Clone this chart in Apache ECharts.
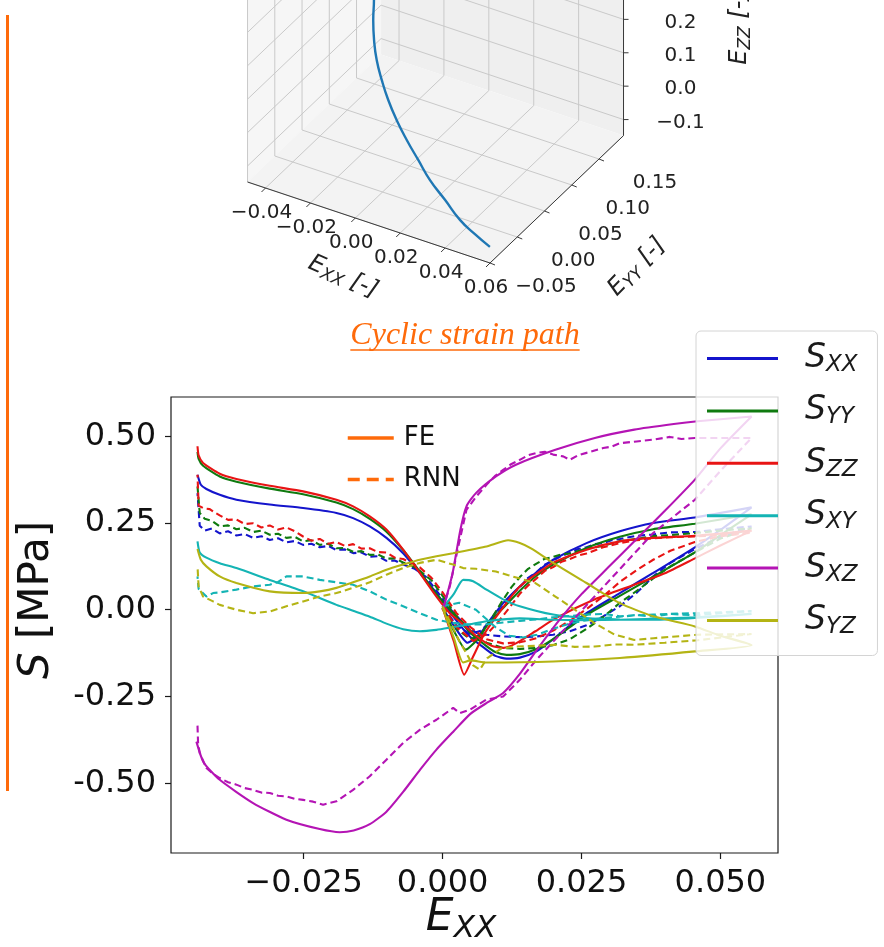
<!DOCTYPE html>
<html>
<head>
<meta charset="utf-8">
<script src="https://cdn.jsdelivr.net/npm/echarts@6.0.0/dist/echarts.min.js"></script>
<style>
  html, body { margin: 0; padding: 0; background: #ffffff; }
  #chart { width: 884px; height: 947px; }
</style>
</head>
<body>
<div id="chart"></div>
<script>
// ---------------- stress response: S vs E_XX ----------------
const components = ['S_XX', 'S_YY', 'S_ZZ', 'S_XY', 'S_XZ', 'S_YZ'];
const componentColors = ['#1414cc', '#0f7a0f', '#e81414', '#14b4b4', '#b414b4', '#b4b414'];
const xTickValues = [-0.025, 0, 0.025, 0.05];
const yTickValues = [-0.5, -0.25, 0, 0.25, 0.5];

// FE reference curves, [E_XX, S]
const feSxx = [[0,0.005],[0.002,-0.045],[0.0045,-0.095],[0.0067,-0.07],[0.009,-0.02],[0.0109,0.019],[0.0139,0.067],[0.0169,0.108],[0.0199,0.144],[0.0259,0.192],[0.0319,0.226],[0.0379,0.25],[0.0454,0.266],[0.0556,0.295],[0.05,0.23],[0.0454,0.18],[0.0379,0.106],[0.0319,0.048],[0.0259,-0.01],[0.0229,-0.045],[0.0199,-0.085],[0.0169,-0.12],[0.0139,-0.138],[0.0115,-0.141],[0.0095,-0.133],[0.0079,-0.115],[0.0049,-0.077],[0.0019,-0.019],[-0.0011,0.048],[-0.0041,0.106],[-0.0071,0.163],[-0.0101,0.207],[-0.0131,0.24],[-0.0161,0.264],[-0.0191,0.279],[-0.0251,0.293],[-0.0311,0.303],[-0.0371,0.317],[-0.0401,0.331],[-0.0425,0.348],[-0.0435,0.36],[-0.0441,0.389]];
const feSyy = [[0,0.005],[0.002,-0.06],[0.0042,-0.115],[0.006,-0.09],[0.0085,-0.035],[0.0109,0.005],[0.0139,0.055],[0.0169,0.098],[0.0199,0.13],[0.0259,0.178],[0.0319,0.21],[0.0379,0.232],[0.0454,0.248],[0.0556,0.275],[0.05,0.215],[0.0454,0.165],[0.0379,0.095],[0.0319,0.04],[0.0259,-0.015],[0.0229,-0.05],[0.0199,-0.085],[0.0169,-0.113],[0.0139,-0.128],[0.0115,-0.13],[0.0095,-0.122],[0.0079,-0.105],[0.0049,-0.065],[0.0019,-0.01],[-0.0011,0.045],[-0.0041,0.11],[-0.0071,0.172],[-0.0101,0.225],[-0.0131,0.262],[-0.0161,0.29],[-0.0191,0.309],[-0.0251,0.333],[-0.0311,0.349],[-0.0371,0.369],[-0.0401,0.384],[-0.0431,0.415],[-0.0439,0.435],[-0.0441,0.455]];
const feSzz = [[0,0.005],[0.002,-0.09],[0.0039,-0.187],[0.0055,-0.135],[0.0075,-0.07],[0.0097,-0.019],[0.0139,0.067],[0.0199,0.135],[0.0259,0.173],[0.0319,0.197],[0.0379,0.207],[0.0454,0.213],[0.0556,0.228],[0.05,0.185],[0.0454,0.148],[0.04,0.105],[0.0345,0.072],[0.0274,0.03],[0.0203,-0.025],[0.0167,-0.062],[0.0132,-0.097],[0.011,-0.11],[0.0088,-0.104],[0.006,-0.075],[0.0032,-0.035],[0.0013,-0.01],[-0.0011,0.038],[-0.0041,0.106],[-0.0071,0.173],[-0.0101,0.231],[-0.0131,0.269],[-0.0161,0.298],[-0.0191,0.317],[-0.0251,0.341],[-0.0311,0.357],[-0.0371,0.377],[-0.0401,0.392],[-0.0431,0.423],[-0.0439,0.445],[-0.0441,0.471]];
const feSxy = [[0,0.005],[0.002,0.045],[0.0037,0.086],[0.0055,0.082],[0.0079,0.058],[0.0109,0.03],[0.0139,0.01],[0.0199,-0.014],[0.0259,-0.024],[0.0319,-0.028],[0.0379,-0.029],[0.0454,-0.024],[0.0556,-0.012],[0.0454,-0.022],[0.0379,-0.026],[0.0319,-0.029],[0.0259,-0.03],[0.0199,-0.029],[0.0139,-0.025],[0.0079,-0.033],[0.0049,-0.042],[0.0019,-0.05],[-0.0011,-0.058],[-0.0041,-0.062],[-0.0071,-0.056],[-0.0101,-0.04],[-0.0131,-0.02],[-0.0161,-0.003],[-0.0191,0.014],[-0.0251,0.053],[-0.0311,0.086],[-0.0371,0.12],[-0.0401,0.134],[-0.0425,0.15],[-0.0437,0.165],[-0.0441,0.197]];
const feSxz = [[0,0],[0.0004,0.019],[0.0018,0.105],[0.0032,0.23],[0.0043,0.298],[0.006,0.336],[0.0096,0.384],[0.0132,0.418],[0.0203,0.461],[0.0274,0.495],[0.0345,0.519],[0.0416,0.535],[0.0459,0.543],[0.0556,0.557],[0.05,0.465],[0.0454,0.375],[0.04,0.285],[0.035,0.205],[0.03,0.125],[0.025,0.045],[0.021,-0.03],[0.017,-0.115],[0.0139,-0.185],[0.0109,-0.24],[0.008,-0.268],[0.005,-0.3],[0.002,-0.35],[-0.0011,-0.403],[-0.004,-0.46],[-0.0071,-0.525],[-0.0101,-0.582],[-0.0131,-0.618],[-0.016,-0.636],[-0.0185,-0.641],[-0.0221,-0.632],[-0.0281,-0.605],[-0.0341,-0.557],[-0.0401,-0.49],[-0.043,-0.44],[-0.0443,-0.38]];
const feSyz = [[0,0.005],[0.002,-0.08],[0.0037,-0.152],[0.005,-0.146],[0.0079,-0.152],[0.0199,-0.149],[0.0319,-0.139],[0.0454,-0.12],[0.0556,-0.102],[0.05,-0.075],[0.0454,-0.048],[0.0379,-0.019],[0.0319,0.019],[0.0259,0.077],[0.0199,0.135],[0.016,0.176],[0.0139,0.192],[0.0118,0.2],[0.0079,0.182],[0.0019,0.163],[-0.0011,0.154],[-0.0041,0.144],[-0.0071,0.13],[-0.0101,0.115],[-0.0131,0.096],[-0.0161,0.079],[-0.0191,0.063],[-0.0221,0.053],[-0.0251,0.048],[-0.0311,0.053],[-0.0371,0.077],[-0.0401,0.096],[-0.0425,0.125],[-0.0435,0.144],[-0.0441,0.175]];

// RNN predictions, [E_XX, S]
const rnnSxx = [[0,0.01],[0.0025,-0.045],[0.005,-0.07],[0.007,-0.06],[0.009,-0.025],[0.0109,0.01],[0.0124,0.042],[0.0139,0.065],[0.0154,0.092],[0.0169,0.108],[0.0184,0.13],[0.0199,0.142],[0.0214,0.155],[0.0229,0.164],[0.0244,0.175],[0.0259,0.18],[0.0274,0.189],[0.0289,0.192],[0.0304,0.2],[0.0319,0.204],[0.0349,0.213],[0.0379,0.217],[0.0409,0.223],[0.0454,0.224],[0.05,0.232],[0.0556,0.24],[0.05,0.21],[0.0454,0.175],[0.041,0.135],[0.0379,0.096],[0.035,0.05],[0.0319,0.01],[0.0289,-0.019],[0.0259,-0.045],[0.0229,-0.062],[0.0199,-0.072],[0.0169,-0.077],[0.0139,-0.079],[0.0109,-0.077],[0.0079,-0.072],[0.0061,-0.067],[0.0035,-0.035],[0.0015,0],[-0.0011,0.055],[-0.003,0.095],[-0.005,0.118],[-0.0071,0.13],[-0.0086,0.142],[-0.0101,0.141],[-0.0116,0.154],[-0.0131,0.153],[-0.0146,0.165],[-0.0161,0.163],[-0.0176,0.174],[-0.0191,0.172],[-0.0206,0.184],[-0.0221,0.18],[-0.0236,0.19],[-0.0251,0.187],[-0.0266,0.198],[-0.0281,0.194],[-0.0296,0.206],[-0.0311,0.201],[-0.0326,0.212],[-0.0341,0.207],[-0.0356,0.218],[-0.0371,0.214],[-0.0386,0.226],[-0.0401,0.22],[-0.0415,0.234],[-0.0428,0.228],[-0.0437,0.242],[-0.0441,0.336]];
const rnnSyy = [[0,0.01],[0.0025,-0.055],[0.005,-0.085],[0.007,-0.07],[0.009,-0.02],[0.0109,0.029],[0.0124,0.065],[0.0139,0.094],[0.0154,0.118],[0.0169,0.133],[0.0184,0.147],[0.0199,0.152],[0.0214,0.16],[0.0229,0.162],[0.0259,0.176],[0.0289,0.184],[0.0319,0.198],[0.0349,0.204],[0.0379,0.212],[0.0409,0.215],[0.0454,0.221],[0.05,0.228],[0.0556,0.235],[0.05,0.205],[0.0454,0.165],[0.041,0.125],[0.0379,0.09],[0.035,0.055],[0.0319,0.02],[0.029,-0.02],[0.0259,-0.055],[0.0229,-0.085],[0.0199,-0.102],[0.0169,-0.11],[0.0139,-0.113],[0.0109,-0.11],[0.0079,-0.095],[0.005,-0.06],[0.0025,-0.018],[0,0.04],[-0.002,0.085],[-0.0041,0.112],[-0.0056,0.128],[-0.0071,0.136],[-0.0086,0.148],[-0.0101,0.147],[-0.0116,0.159],[-0.0131,0.158],[-0.0146,0.169],[-0.0161,0.167],[-0.0176,0.178],[-0.0191,0.177],[-0.0206,0.19],[-0.0221,0.187],[-0.0236,0.2],[-0.0251,0.197],[-0.0266,0.21],[-0.0281,0.207],[-0.0296,0.219],[-0.0311,0.216],[-0.0326,0.228],[-0.0341,0.224],[-0.0356,0.236],[-0.0371,0.232],[-0.0386,0.243],[-0.0401,0.24],[-0.0415,0.256],[-0.0428,0.262],[-0.0437,0.279],[-0.0441,0.355]];
const rnnSzz = [[0,0.01],[0.0025,-0.05],[0.0055,-0.09],[0.008,-0.07],[0.01,-0.035],[0.012,0.005],[0.0139,0.046],[0.0154,0.07],[0.0169,0.09],[0.0184,0.112],[0.0199,0.123],[0.0214,0.138],[0.0229,0.146],[0.0244,0.156],[0.0259,0.162],[0.0289,0.18],[0.0319,0.192],[0.0349,0.2],[0.0379,0.206],[0.0409,0.209],[0.0454,0.211],[0.05,0.215],[0.0556,0.222],[0.05,0.212],[0.0454,0.195],[0.041,0.17],[0.0379,0.144],[0.035,0.115],[0.0319,0.08],[0.029,0.04],[0.0259,0.002],[0.0229,-0.032],[0.0199,-0.06],[0.0169,-0.082],[0.0139,-0.094],[0.0109,-0.097],[0.0079,-0.085],[0.005,-0.05],[0.0025,-0.01],[0,0.05],[-0.002,0.092],[-0.0041,0.122],[-0.0056,0.134],[-0.0071,0.146],[-0.0086,0.15],[-0.0101,0.165],[-0.0116,0.166],[-0.0131,0.177],[-0.0146,0.176],[-0.0161,0.189],[-0.0176,0.184],[-0.0191,0.195],[-0.0206,0.19],[-0.0221,0.204],[-0.0236,0.199],[-0.0251,0.211],[-0.0266,0.226],[-0.0281,0.237],[-0.0296,0.231],[-0.0311,0.243],[-0.0326,0.237],[-0.0341,0.249],[-0.0356,0.247],[-0.0371,0.26],[-0.0386,0.259],[-0.0401,0.272],[-0.041,0.28],[-0.0419,0.29],[-0.043,0.292],[-0.0439,0.3],[-0.0441,0.389]];
const rnnSxy = [[0,0.01],[0.003,0.02],[0.006,0],[0.0095,-0.05],[0.012,-0.075],[0.0145,-0.08],[0.017,-0.072],[0.0199,-0.055],[0.0229,-0.04],[0.0259,-0.03],[0.0289,-0.024],[0.0319,-0.02],[0.0349,-0.016],[0.0379,-0.014],[0.0409,-0.012],[0.0454,-0.01],[0.0556,-0.004],[0.05,-0.01],[0.0454,-0.016],[0.041,-0.012],[0.0379,-0.02],[0.035,-0.015],[0.0319,-0.019],[0.029,-0.012],[0.0259,-0.014],[0.0229,-0.018],[0.0199,-0.022],[0.0169,-0.028],[0.0139,-0.032],[0.0109,-0.037],[0.0079,-0.042],[0.0049,-0.043],[0.0019,-0.038],[-0.0011,-0.029],[-0.0041,-0.01],[-0.0071,0.01],[-0.0101,0.029],[-0.0131,0.053],[-0.0161,0.072],[-0.0191,0.079],[-0.0221,0.086],[-0.0251,0.096],[-0.0281,0.096],[-0.0296,0.08],[-0.0311,0.072],[-0.0341,0.067],[-0.0371,0.058],[-0.0401,0.05],[-0.0413,0.048],[-0.0425,0.038],[-0.0439,0.06],[-0.0441,0.096]];
const rnnSxz = [[0,0],[0.0013,0.067],[0.0028,0.18],[0.0043,0.288],[0.0061,0.327],[0.0079,0.36],[0.0094,0.385],[0.0109,0.403],[0.0124,0.42],[0.0139,0.432],[0.0154,0.445],[0.0169,0.452],[0.0184,0.455],[0.0199,0.447],[0.0217,0.442],[0.0229,0.432],[0.0244,0.445],[0.0259,0.452],[0.0289,0.466],[0.0304,0.47],[0.0319,0.48],[0.0349,0.485],[0.0379,0.49],[0.0409,0.498],[0.043,0.492],[0.0454,0.495],[0.0556,0.495],[0.05,0.4],[0.0454,0.317],[0.0379,0.221],[0.0319,0.117],[0.0259,0.013],[0.0229,-0.04],[0.0199,-0.092],[0.0169,-0.144],[0.0139,-0.202],[0.0109,-0.25],[0.0079,-0.259],[0.0049,-0.288],[0.0031,-0.298],[0.0019,-0.283],[0.0004,-0.3],[-0.0011,-0.317],[-0.0041,-0.346],[-0.0071,-0.384],[-0.0101,-0.432],[-0.0131,-0.48],[-0.0161,-0.519],[-0.0191,-0.552],[-0.0215,-0.562],[-0.0233,-0.553],[-0.0251,-0.548],[-0.0266,-0.545],[-0.0281,-0.538],[-0.0296,-0.536],[-0.0311,-0.528],[-0.0326,-0.527],[-0.0341,-0.519],[-0.0356,-0.514],[-0.0371,-0.504],[-0.0386,-0.497],[-0.0401,-0.485],[-0.0413,-0.473],[-0.0425,-0.456],[-0.0437,-0.413],[-0.044,-0.384],[-0.0441,-0.334]];
const rnnSyz = [[0,0.01],[0.003,-0.09],[0.0055,-0.16],[0.0067,-0.173],[0.008,-0.14],[0.0105,-0.112],[0.0132,-0.106],[0.0167,-0.104],[0.0203,-0.101],[0.0238,-0.107],[0.0274,-0.106],[0.031,-0.1],[0.0345,-0.101],[0.04,-0.095],[0.0459,-0.088],[0.0556,-0.07],[0.0459,-0.072],[0.038,-0.082],[0.0345,-0.087],[0.031,-0.072],[0.0274,-0.039],[0.0238,0],[0.0203,0.038],[0.0167,0.077],[0.0117,0.1],[0.0096,0.11],[0.006,0.118],[0.0037,0.12],[0.0019,0.13],[-0.0011,0.144],[-0.0041,0.135],[-0.0071,0.12],[-0.0101,0.101],[-0.0131,0.079],[-0.0161,0.063],[-0.0191,0.048],[-0.0221,0.038],[-0.0251,0.024],[-0.0281,0.01],[-0.0311,-0.005],[-0.0341,-0.01],[-0.0371,0],[-0.0401,0.014],[-0.0413,0.024],[-0.0431,0.038],[-0.0439,0.067],[-0.0441,0.125]];

const feCurves = [feSxx, feSyy, feSzz, feSxy, feSxz, feSyz];
const rnnCurves = [rnnSxx, rnnSyy, rnnSzz, rnnSxy, rnnSxz, rnnSyz];

// ---------------- strain path in (E_XX, E_YY, E_ZZ) ----------------
const pathExx = [-0.0305, -0.0281, -0.026, -0.0232, -0.0196, -0.0149, -0.0096, -0.0034, 0.0035, 0.0111, 0.0187, 0.0278, 0.0369, 0.046, 0.0551];
const pathEyy = [0.11, 0.10, 0.09, 0.08, 0.07, 0.06, 0.05, 0.04, 0.03, 0.02, 0.01, 0.0, -0.01, -0.02, -0.03];
const pathEzz = [0.247, 0.208, 0.168, 0.130, 0.094, 0.060, 0.028, -0.003, -0.031, -0.059, -0.086, -0.109, -0.133, -0.140, -0.142];
const exxTicks3d = [-0.04, -0.02, 0.0, 0.02, 0.04, 0.06];
const eyyTicks3d = [-0.05, 0.0, 0.05, 0.10, 0.15];
const ezzTicks3d = [-0.1, 0.0, 0.1, 0.2, 0.3, 0.4];

const ORANGE = '#fe6a0a';
const FONT = 'DejaVu Sans';

// box limits of the 3-D axes and the screen basis of the view
const box3d = { x: [-0.048, 0.06], y: [-0.05, 0.195], z: [-0.148, 0.45] };
const view = { ox: 490, oy: 263, ex: [2245, 750], ey: [545, -520], ez: [0, -334] };
function project(x, y, z) {
  const dx = x - box3d.x[1], dy = y - box3d.y[0], dz = z - box3d.z[0];
  return [view.ox + dx * view.ex[0] + dy * view.ey[0] + dz * view.ez[0],
          view.oy + dx * view.ex[1] + dy * view.ey[1] + dz * view.ez[1]];
}
function minusFmt(v, d) { return (v < -1e-12 ? '\u2212' : '') + Math.abs(v).toFixed(d); }

const graphics = [];
(function build3dAxes() {
  const [x0, x1] = box3d.x, [y0, y1] = box3d.y, [z0, z1] = box3d.z;
  const poly = (pts, fill) => graphics.push({ type: 'polygon', silent: true, z: 0, shape: { points: pts }, style: { fill } });
  const seg = (a, b, stroke, w) => graphics.push({ type: 'line', silent: true, z: 1, shape: { x1: a[0], y1: a[1], x2: b[0], y2: b[1] }, style: { stroke, lineWidth: w } });
  // panes
  poly([project(x0, y0, z0), project(x0, y1, z0), project(x0, y1, z1), project(x0, y0, z1)], '#f6f6f6');
  poly([project(x0, y1, z0), project(x1, y1, z0), project(x1, y1, z1), project(x0, y1, z1)], '#efefef');
  poly([project(x0, y0, z0), project(x1, y0, z0), project(x1, y1, z0), project(x0, y1, z0)], '#f3f3f3');
  // grid lines
  const gc = '#c9c9c9';
  exxTicks3d.forEach(t => { seg(project(t, y0, z0), project(t, y1, z0), gc, 1); seg(project(t, y1, z0), project(t, y1, z1), gc, 1); });
  eyyTicks3d.forEach(t => { seg(project(x0, t, z0), project(x1, t, z0), gc, 1); seg(project(x0, t, z0), project(x0, t, z1), gc, 1); });
  ezzTicks3d.forEach(t => { seg(project(x0, y0, t), project(x0, y1, t), gc, 1); seg(project(x0, y1, t), project(x1, y1, t), gc, 1); });
  // axis spines
  const ac = '#3a3a3a';
  seg(project(x0, y0, z0), project(x1, y0, z0), ac, 1);
  seg(project(x1, y0, z0), project(x1, y1, z0), ac, 1);
  seg(project(x1, y1, z0), project(x1, y1, z1), ac, 1);
  const txt = (x, y, text, size) => graphics.push({ type: 'text', silent: true, z: 2, x, y,
    style: { text, fontFamily: FONT, fontSize: size, fill: '#222', align: 'center', verticalAlign: 'middle' } });
  exxTicks3d.forEach(t => {
    const p = project(t, y0, z0);
    seg(p, [p[0] - 4, p[1] + 4], ac, 1);
    txt(p[0] - 4, p[1] + 25, minusFmt(t, 2), 20);
  });
  eyyTicks3d.forEach(t => {
    const p = project(x1, t, z0);
    seg(p, [p[0] + 5, p[1] + 2], ac, 1);
    txt(p[0] + 56, p[1] + 24, minusFmt(t, 2), 20);
  });
  ezzTicks3d.filter(t => t <= 0.2).forEach(t => {
    const p = project(x1, y1, t);
    seg(p, [p[0] + 5, p[1]], ac, 1);
    txt(p[0] + 57, p[1] + 3, minusFmt(t, 1), 20);
  });
  const axRich = {
    e: { fontFamily: FONT, fontStyle: 'italic', fontSize: 24, lineHeight: 28, fill: '#222' },
    s: { fontFamily: FONT, fontStyle: 'italic', fontSize: 17, lineHeight: 19, verticalAlign: 'bottom', fill: '#222' },
    n: { fontFamily: FONT, fontStyle: 'italic', fontSize: 24, lineHeight: 28, fill: '#222' }
  };
  const axName = (x, y, sub, rot) => graphics.push({ type: 'text', silent: true, z: 2, x, y, rotation: rot,
    style: { text: '{e|E}{s|' + sub + '}{n| [-]}', rich: axRich, align: 'center', verticalAlign: 'middle' } });
  axName(343, 277, 'XX', -0.42);
  axName(637, 267, 'YY', 0.8);
  axName(740, 28, 'ZZ', Math.PI / 2);
})();

// title of the strain-path panel, underlined
const titleText = 'Cyclic strain path';
const titleFont = 'italic 32px "Liberation Serif"';
const measureCtx = document.createElement('canvas').getContext('2d');
measureCtx.font = titleFont;
const titleW = measureCtx.measureText(titleText).width;
graphics.push({ type: 'text', silent: true, x: 465, y: 336,
  style: { text: titleText, font: titleFont, fill: ORANGE, align: 'center', verticalAlign: 'middle' } });
graphics.push({ type: 'line', silent: true, shape: { x1: 465 - titleW / 2, y1: 350, x2: 465 + titleW / 2, y2: 350 },
  style: { stroke: ORANGE, lineWidth: 1.6 } });
// slide accent bar
graphics.push({ type: 'rect', silent: true, shape: { x: 6, y: 15, width: 3, height: 776 }, style: { fill: ORANGE } });

// axis titles of the stress plot
graphics.push({ type: 'text', silent: true, x: 461, y: 919,
  style: { text: '{e|E}{s|XX}', align: 'center', verticalAlign: 'middle', rich: {
    e: { fontFamily: FONT, fontStyle: 'italic', fontSize: 44, lineHeight: 50, fill: '#111' },
    s: { fontFamily: FONT, fontStyle: 'italic', fontSize: 31, lineHeight: 33, verticalAlign: 'bottom', fill: '#111' } } } });
graphics.push({ type: 'text', silent: true, x: 37, y: 600, rotation: Math.PI / 2,
  style: { text: '{e|S}{n| [MPa]}', align: 'center', verticalAlign: 'middle', rich: {
    e: { fontFamily: FONT, fontStyle: 'italic', fontSize: 42, lineHeight: 48, fill: '#111' },
    n: { fontFamily: FONT, fontSize: 42, lineHeight: 48, fill: '#111' } } } });

// ---------------- series ----------------
const series = [];
components.forEach((name, i) => {
  series.push({ type: 'line', name, data: feCurves[i], xAxisIndex: 0, yAxisIndex: 0, symbol: 'none',
    smooth: 0.2, lineStyle: { color: componentColors[i], width: 2.1 }, itemStyle: { color: componentColors[i] }, z: 3 });
  series.push({ type: 'line', name, data: rnnCurves[i], xAxisIndex: 0, yAxisIndex: 0, symbol: 'none',
    lineStyle: { color: componentColors[i], width: 2.1, type: [7, 4] }, itemStyle: { color: componentColors[i] }, z: 3 });
});
series.push({ type: 'line', name: 'FE', data: [], symbol: 'none', lineStyle: { color: ORANGE, width: 3.5 }, itemStyle: { color: ORANGE } });
series.push({ type: 'line', name: 'RNN', data: [], symbol: 'none', lineStyle: { color: ORANGE, width: 3.5, type: [12, 7] }, itemStyle: { color: ORANGE } });
series.push({ type: 'line', name: 'strain path', xAxisIndex: 1, yAxisIndex: 1, symbol: 'none', smooth: true, z: 5,
  data: pathExx.map((x, i) => project(x, pathEyy[i], pathEzz[i])), lineStyle: { color: '#1f77b4', width: 2.4 } });

const chart = echarts.init(document.getElementById('chart'), null, { renderer: 'canvas' });
chart.setOption({
  animation: false,
  backgroundColor: '#ffffff',
  grid: [
    { left: 171, top: 397, width: 607, height: 456, show: true, borderColor: '#1a1a1a', borderWidth: 1.2, backgroundColor: 'transparent' },
    { left: 0, top: 0, width: 884, height: 947 }
  ],
  xAxis: [
    { type: 'value', gridIndex: 0, min: -0.04887, max: 0.06036,
      axisLine: { show: false, onZero: false }, splitLine: { show: false },
      axisTick: { show: true, customValues: xTickValues, length: 6, lineStyle: { color: '#1a1a1a', width: 1.2 } },
      axisLabel: { customValues: xTickValues, formatter: v => minusFmt(v, 3), fontFamily: FONT, fontSize: 32, color: '#111', margin: 15 } },
    { type: 'value', gridIndex: 1, min: 0, max: 884, show: false }
  ],
  yAxis: [
    { type: 'value', gridIndex: 0, min: -0.701, max: 0.613,
      axisLine: { show: false, onZero: false }, splitLine: { show: false },
      axisTick: { show: true, customValues: yTickValues, length: 6, lineStyle: { color: '#1a1a1a', width: 1.2 } },
      axisLabel: { customValues: yTickValues, formatter: v => v.toFixed(2), fontFamily: FONT, fontSize: 32, color: '#111', margin: 15 } },
    { type: 'value', gridIndex: 1, min: 0, max: 947, inverse: true, show: false }
  ],
  legend: [
    { data: components, orient: 'vertical', left: 696, top: 331, itemWidth: 71, itemHeight: 3, itemGap: 17.9,
      icon: 'rect', padding: [11, 20, 17, 11],
      backgroundColor: 'rgba(255,255,255,0.82)', borderColor: '#d4d4d4', borderWidth: 1, borderRadius: 5,
      itemStyle: { borderWidth: 0 },
      formatter: n => '{s|S}{b|' + n.slice(2) + '}',
      textStyle: { padding: [0, 0, 0, 22], rich: {
        s: { fontFamily: FONT, fontStyle: 'italic', fontSize: 33, lineHeight: 36, color: '#1a1a1a' },
        b: { fontFamily: FONT, fontStyle: 'italic', fontSize: 23, lineHeight: 22, verticalAlign: 'bottom', color: '#1a1a1a' } } } },
    { data: ['FE', 'RNN'], orient: 'vertical', left: 346, top: 423, itemWidth: 46, itemHeight: 14, itemGap: 11.6,
      padding: 0, itemStyle: { opacity: 0 }, lineStyle: { width: 3.5 },
      textStyle: { fontFamily: FONT, fontSize: 26, lineHeight: 30, color: '#111', padding: [0, 0, 0, 5] } }
  ],
  graphic: { elements: graphics },
  series
});
</script>
</body>
</html>
